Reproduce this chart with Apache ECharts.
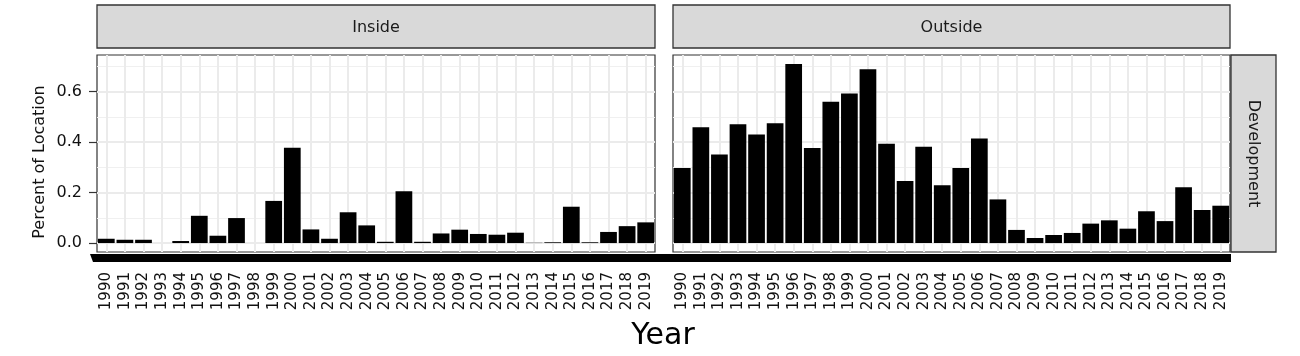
<!DOCTYPE html>
<html>
<head>
<meta charset="utf-8">
<script src="https://cdn.jsdelivr.net/npm/echarts@6/dist/echarts.min.js"></script>
<style>
html,body{margin:0;padding:0;background:#fff;}
#chart{width:1300px;height:356px;}
</style>
</head>
<body>
<div id="chart"></div>
<script>
// ---- data ----
const years = ['1990','1991','1992','1993','1994','1995','1996','1997','1998','1999',
               '2000','2001','2002','2003','2004','2005','2006','2007','2008','2009',
               '2010','2011','2012','2013','2014','2015','2016','2017','2018','2019'];
const insideValues = [0.017,0.013,0.013,0,0.008,0.108,0.029,0.099,0,0.167,
                      0.378,0.054,0.017,0.122,0.070,0.005,0.205,0.005,0.038,0.053,
                      0.036,0.033,0.041,0.001,0.003,0.144,0.003,0.044,0.067,0.082];
const outsideValues = [0.298,0.459,0.351,0.471,0.430,0.475,0.710,0.377,0.560,0.593,
                       0.689,0.394,0.246,0.382,0.229,0.298,0.414,0.173,0.052,0.020,
                       0.032,0.040,0.077,0.090,0.057,0.126,0.087,0.221,0.131,0.148];
const yTicks = [0, 0.2, 0.4, 0.6];
const yMinorTicks = [0.1, 0.3, 0.5, 0.7];
const panelNames = ['Inside', 'Outside'];
const rowName = 'Development';
const yTitle = 'Percent of Location';
const xTitle = 'Year';

// ---- layout ----
const FONT = '"DejaVu Sans", sans-serif';
const TOP = 55, HEIGHT = 197;
const PANELS = [{left: 97, width: 558}, {left: 673, width: 557}];
const STRIP_TOP = 5, STRIP_H = 43;
const Y_MIN = -0.0355, Y_MAX = 0.7455;
const seriesValues = [insideValues, outsideValues];

const grids = [], xAxes = [], yAxes = [], series = [];
PANELS.forEach((p, i) => {
  grids.push({left: p.left, top: TOP, width: p.width, height: HEIGHT,
    show: true, backgroundColor: '#fff', borderColor: '#333', borderWidth: 1.2});
  xAxes.push({type: 'category', gridIndex: i, data: years, boundaryGap: true,
    axisLine: {show: false}, axisTick: {show: false},
    axisLabel: {rotate: 90, interval: 0, margin: 20, fontSize: 15, color: '#111', fontFamily: FONT},
    splitLine: {show: true, alignWithLabel: true, interval: 0, lineStyle: {color: '#ebebeb', width: 2}}});
});
PANELS.forEach((p, i) => {
  yAxes.push({type: 'value', gridIndex: i, min: Y_MIN, max: Y_MAX,
    axisLine: {show: false},
    axisTick: {show: i === 0, length: 8, customValues: yTicks, lineStyle: {color: '#333', width: 1.2}},
    axisLabel: {show: i === 0, customValues: yTicks, margin: 15, fontSize: 16, color: '#111', fontFamily: FONT,
      formatter: v => Number(v).toFixed(1)},
    splitLine: {show: true, lineStyle: {color: '#ebebeb', width: 2}}});
});
PANELS.forEach((p, i) => {
  yAxes.push({type: 'value', gridIndex: i, min: Y_MIN, max: Y_MAX, position: 'left',
    axisLine: {show: false},
    axisTick: {show: false, customValues: yMinorTicks},
    axisLabel: {show: false, customValues: yMinorTicks},
    splitLine: {show: true, lineStyle: {color: '#f0f0f0', width: 1.2}}});
});
PANELS.forEach((p, i) => {
  series.push({type: 'bar', xAxisIndex: i, yAxisIndex: i, data: seriesValues[i],
    barWidth: '90%', itemStyle: {color: '#000'}, silent: true, z: 3});
});

// ---- facet strips & titles ----
const graphic = [];
PANELS.forEach((p, i) => {
  graphic.push({type: 'rect', shape: {x: p.left, y: STRIP_TOP, width: p.width, height: STRIP_H},
    style: {fill: '#d9d9d9', stroke: '#333', lineWidth: 1.3}, z: 10});
  graphic.push({type: 'text', x: p.left + p.width / 2, y: STRIP_TOP + STRIP_H / 2 + 1,
    style: {text: panelNames[i], fontSize: 16, fontFamily: FONT, fill: '#1a1a1a',
      textAlign: 'center', textVerticalAlign: 'middle'}, z: 11});
});
const rightEdge = PANELS[1].left + PANELS[1].width;
graphic.push({type: 'rect', shape: {x: rightEdge + 1, y: TOP, width: 45, height: HEIGHT},
  style: {fill: '#d9d9d9', stroke: '#333', lineWidth: 1.3}, z: 10});
graphic.push({type: 'text', x: rightEdge + 23.5, y: TOP + HEIGHT / 2, rotation: -Math.PI / 2,
  style: {text: rowName, fontSize: 16, fontFamily: FONT, fill: '#1a1a1a',
    textAlign: 'center', textVerticalAlign: 'middle'}, z: 11});
// thick axis band under the panels
graphic.push({type: 'polygon', shape: {points: [
  [PANELS[0].left - 7, TOP + HEIGHT + 2], [rightEdge + 1, TOP + HEIGHT + 2],
  [rightEdge + 1, TOP + HEIGHT + 10], [PANELS[0].left - 4, TOP + HEIGHT + 10]]},
  style: {fill: '#000'}, z: 10});
graphic.push({type: 'text', x: 40, y: 162, rotation: Math.PI / 2,
  style: {text: yTitle, fontSize: 16, fontFamily: FONT, fill: '#111',
    textAlign: 'center', textVerticalAlign: 'middle'}, z: 11});
graphic.push({type: 'text', x: 663, y: 336,
  style: {text: xTitle, fontSize: 30, fontFamily: FONT, fill: '#000',
    textAlign: 'center', textVerticalAlign: 'middle'}, z: 11});

const chart = echarts.init(document.getElementById('chart'), null, {renderer: 'canvas'});
chart.setOption({
  animation: false,
  backgroundColor: '#fff',
  grid: grids,
  xAxis: xAxes,
  yAxis: yAxes,
  series: series,
  graphic: graphic
});
</script>
</body>
</html>
